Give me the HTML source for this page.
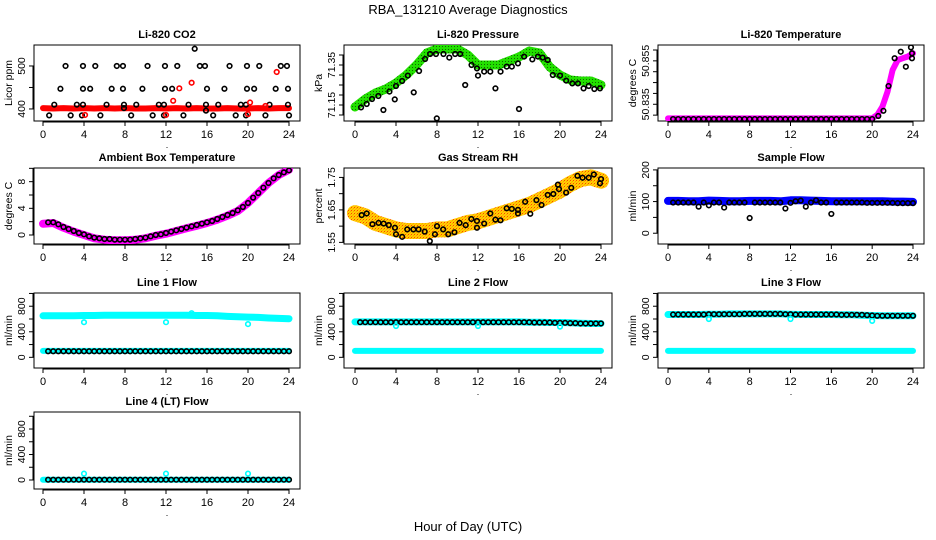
<!DOCTYPE html>
<html><head><meta charset="utf-8"><title>RBA_131210 Average Diagnostics</title>
<style>
html,body{margin:0;padding:0;background:#fff;}
svg{display:block;font-family:"Liberation Sans",Arial,sans-serif;}
</style></head>
<body>
<svg id="chart" width="936" height="540" viewBox="0 0 936 540" xmlns="http://www.w3.org/2000/svg">
<defs>
<pattern id="pGreen" width="3" height="3" patternUnits="userSpaceOnUse"><rect width="3" height="3" fill="#22e000"/><rect x="1" y="1" width="1" height="1" fill="#106600"/></pattern>
<pattern id="pOrange" width="3" height="3" patternUnits="userSpaceOnUse"><rect width="3" height="3" fill="#ffd000"/><rect width="1" height="1" fill="#ff4000"/><rect x="2" y="1" width="1" height="1" fill="#ff9a00"/><rect x="1" y="2" width="1" height="1" fill="#ffb000"/></pattern>
</defs>
<text x="468" y="14" font-size="13" text-anchor="middle">RBA_131210  Average Diagnostics</text>
<text x="468" y="531" font-size="13" text-anchor="middle">Hour of Day (UTC)</text>
</svg>
<script>
// ---- shared x values ----
const hrs=[0,1,2,3,4,5,6,7,8,9,10,11,12,13,14,15,16,17,18,19,20,21,22,23,24];
const hh=[0.5,1,1.5,2,2.5,3,3.5,4,4.5,5,5.5,6,6.5,7,7.5,8,8.5,9,9.5,10,10.5,11,11.5,12,12.5,13,13.5,14,14.5,15,15.5,16,16.5,17,17.5,18,18.5,19,19.5,20,20.5,21,21.5,22,22.5,23,23.5,24];
const xTicks=[0,4,8,12,16,20,24];

// ---- Li-820 CO2 ----
const co2Band=[402,401,402,401,402,401,402,401,402,401,401,402,401,402,401,402,401,401,402,401,401,402,401,402,402];
const co2BlackHours=[2.2,3.9,5.1,7.2,7.8,10.2,11.9,13.1,15.3,15.8,18.2,19.9,21.1,23.2,23.8, 1.7,3.9,4.6,6.7,7.8,9.7,11.9,12.6,16.0,17.7,19.9,20.6,22.7,23.9, 1.1,3.3,3.9,6.2,7.9,9.1,11.3,11.8,14.2,15.9,17.1,19.3,19.8,22.1,23.9, 0.6,2.7,3.8,5.6,8.6,10.7,11.8,13.7,16.6,18.8,19.8,21.7,24.0, 14.8,7.9,15.9];
const co2BlackVals=[500,500,500,500,500,500,500,500,500,500,500,500,500,500,500, 447,447,447,447,447,447,447,447,447,447,447,447,447,447, 410,410,410,410,410,410,410,410,410,410,410,410,410,410,410, 385,385,385,385,385,385,385,385,385,385,385,385,385, 540,402,396];
const co2RedHours=[4.1,12.0,12.7,13.3,14.5,20.2,20.0,22.8,21.7];
const co2RedVals=[386,386,419,448,461,415,388,486,407];

// ---- Li-820 Pressure ----
const presBand=[71.14,71.18,71.21,71.23,71.26,71.30,71.35,71.41,71.43,71.43,71.43,71.40,71.35,71.35,71.35,71.37,71.39,71.42,71.41,71.34,71.30,71.275,71.27,71.27,71.25];
const presHours=[0.59,1.14,1.66,2.28,3.36,4.0,4.6,5.15,6.25,6.84,7.33,7.9,8.63,9.2,9.77,10.26,11.37,11.9,12.0,12.6,13.2,14.2,14.8,15.3,15.9,16.5,17.3,17.85,18.3,18.8,19.3,20.0,20.6,21.2,21.75,22.3,22.8,23.35,23.9, 2.77,3.88,5.73,7.98,10.75,13.7,16.0];
const presVals=[71.138,71.155,71.18,71.195,71.217,71.245,71.27,71.297,71.32,71.38,71.405,71.405,71.405,71.387,71.405,71.405,71.35,71.333,71.297,71.317,71.317,71.317,71.342,71.342,71.358,71.392,71.378,71.392,71.387,71.375,71.30,71.297,71.272,71.258,71.258,71.233,71.245,71.23,71.233, 71.125,71.178,71.213,71.083,71.25,71.233,71.13];

// ---- Li-820 Temperature ----
const tempBandHours=[0,1,2,3,4,5,6,7,8,9,10,11,12,13,14,15,16,17,18,19,20,20.5,21,21.5,22,22.5,23,23.5,24];
const tempBand=[50.8285,50.8285,50.8285,50.8285,50.8285,50.8285,50.8285,50.8285,50.8285,50.8285,50.8285,50.8285,50.8285,50.8285,50.8285,50.8285,50.8285,50.8285,50.8285,50.8285,50.8285,50.8301,50.8339,50.8408,50.8508,50.8554,50.8562,50.857,50.8585];
const tempHours=[0.5,1,1.5,2,2.5,3,3.5,4,4.5,5,5.5,6,6.5,7,7.5,8,8.5,9,9.5,10,10.5,11,11.5,12,12.5,13,13.5,14,14.5,15,15.5,16,16.5,17,17.5,18,18.5,19,19.5,20,20.6,21.1,21.6,22.2,22.8,23.3,23.8,23.9,23.9];
const tempVals=[50.8282,50.8282,50.8282,50.8282,50.8282,50.8282,50.8282,50.8282,50.8282,50.8282,50.8282,50.8282,50.8282,50.8282,50.8282,50.8282,50.8282,50.8282,50.8282,50.8282,50.8282,50.8282,50.8282,50.8282,50.8282,50.8282,50.8282,50.8282,50.8282,50.8282,50.8282,50.8282,50.8282,50.8282,50.8282,50.8282,50.8282,50.8282,50.8282,50.8282,50.8296,50.8320,50.8434,50.8562,50.8592,50.8523,50.8612,50.8585,50.8562];

// ---- Ambient Box Temperature ----
const ambBand=[1.7,1.8,1.1,0.5,0.0,-0.5,-0.7,-0.8,-0.8,-0.7,-0.5,-0.1,0.2,0.6,1.0,1.4,1.8,2.3,2.9,3.6,4.8,6.3,7.8,9.0,9.8];
const ambVals=[1.9,1.9,1.6,1.2,0.9,0.6,0.3,0.1,-0.2,-0.4,-0.5,-0.6,-0.6,-0.7,-0.7,-0.7,-0.7,-0.6,-0.5,-0.4,-0.2,0.0,0.1,0.3,0.5,0.7,0.9,1.1,1.3,1.5,1.7,1.9,2.1,2.4,2.7,3.0,3.3,3.7,4.2,4.8,5.6,6.3,7.1,7.8,8.5,9.0,9.4,9.7];

// ---- Gas Stream RH ----
const rhBand=[1.64,1.63,1.61,1.60,1.59,1.585,1.585,1.585,1.59,1.59,1.60,1.61,1.615,1.625,1.635,1.645,1.655,1.665,1.68,1.695,1.71,1.73,1.745,1.75,1.74];
const rhHours=[0.65,1.14,1.7,2.3,2.8,3.3,3.9,4.0,4.6,5.1,5.7,6.2,6.8,7.3,7.8,8.0,8.6,9.1,9.7,10.2,10.8,11.35,11.9,11.9,12.6,13.2,13.7,14.2,14.8,15.3,15.9,15.9,16.6,17.1,17.7,18.2,18.8,19.35,19.8,19.9,20.6,21.1,21.7,22.2,22.8,23.3,23.9,24.0];
const rhVals=[1.634,1.639,1.606,1.61,1.608,1.603,1.595,1.575,1.567,1.59,1.59,1.59,1.583,1.554,1.575,1.6,1.59,1.575,1.581,1.61,1.603,1.622,1.616,1.595,1.608,1.639,1.62,1.618,1.655,1.653,1.65,1.639,1.675,1.638,1.68,1.665,1.696,1.699,1.728,1.714,1.703,1.718,1.755,1.749,1.749,1.759,1.732,1.745];

// ---- Sample Flow ----
const sampBand=[102,102,101,101,103,102,101,101,102,102,102,101,104,104,103,102,101,101,101,101,101,101,100,100,99];
const sampVals=[97,97,97,97,97,84,97,88,97,97,81,97,97,97,97,48,97,97,97,97,97,97,78,96,101,103,84,97,104,97,97,61,97,97,97,97,97,97,96,96,96,96,96,96,95,95,95,95];

// ---- Line 1 Flow ----
const l1High=[650,650,650,650,655,655,660,660,660,660,660,660,660,660,660,655,655,650,640,635,630,625,615,610,605];
const l1Low=[100,100,100,100,100,100,100,100,100,100,100,100,100,100,100,100,100,100,100,100,100,100,100,100,100];
const l1Black=[95,95,95,95,95,95,95,95,95,95,95,95,95,95,95,95,95,95,95,95,95,95,95,95,95,95,95,95,95,95,95,95,95,95,95,95,95,95,95,95,95,95,95,95,95,95,95,95];
const l1OutHours=[4,12,14.5,20];
const l1OutVals=[550,550,690,520];

// ---- Line 2 Flow ----
const l2High=[555,555,555,555,555,555,555,555,555,555,555,555,555,555,555,555,555,550,550,545,545,540,535,530,530];
const l2Low=[100,100,100,100,100,100,100,100,100,100,100,100,100,100,100,100,100,100,100,100,100,100,100,100,100];
const l2Black=[550,550,550,550,550,550,550,550,550,550,550,550,550,550,550,550,550,550,550,550,550,550,550,550,550,550,550,550,550,550,550,550,550,550,545,545,545,545,540,540,540,535,535,530,530,530,530,530];
const l2OutHours=[4,12,20];
const l2OutVals=[490,490,480];

// ---- Line 3 Flow ----
const l3High=[670,670,670,670,675,675,680,680,680,680,680,680,675,670,670,670,670,665,665,660,655,650,650,650,650];
const l3Low=[100,100,100,100,100,100,100,100,100,100,100,100,100,100,100,100,100,100,100,100,100,100,100,100,100];
const l3Black=[670,670,670,670,670,670,670,675,675,675,675,675,675,675,680,680,680,680,680,680,680,680,675,675,670,670,670,670,670,670,670,670,670,665,665,665,665,665,660,655,650,650,650,650,650,650,650,650];
const l3OutHours=[4,12,20];
const l3OutVals=[600,600,570];

// ---- Line 4 (LT) Flow ----
const l4Low=[5,5,5,5,5,5,5,5,5,5,5,5,5,5,5,5,5,5,5,5,5,5,5,5,5];
const l4Black=[5,5,5,5,5,5,5,5,5,5,5,5,5,5,5,5,5,5,5,5,5,5,5,5,5,5,5,5,5,5,5,5,5,5,5,5,5,5,5,5,5,5,5,5,5,5,5,5];
const l4OutHours=[4,12,20];
const l4OutVals=[100,100,100];

// ---- layout (pixels) ----
const NS='http://www.w3.org/2000/svg';
const svg=document.getElementById('chart');
const cols=[{L:34,R:300,x0:43,x24:289},{L:344,R:612,x0:355,x24:601},{L:658,R:924,x0:668,x24:913}];
const rows=[{T:45,B:121},{T:168,B:244},{T:293,B:368},{T:412,B:489}];

function el(tag,attrs,parent){const e=document.createElementNS(NS,tag);for(const k in attrs)e.setAttribute(k,attrs[k]);(parent||svg).appendChild(e);return e;}

function makePanel(key,title,ylab,c,r,yTop,yBot,yTicks,yLabels){
  const col=cols[c],row=rows[r];
  const g=el('g',{});
  
  
  const sx=v=>col.x0+(v/24)*(col.x24-col.x0);
  const sy=v=>row.T+(yTop-v)/(yTop-yBot)*(row.B-row.T);
  const box=el('rect',{x:col.L,y:row.T,width:col.R-col.L,height:row.B-row.T,fill:'none',stroke:'#000','stroke-width':1},g);
  
  
  const t=el('text',{x:(col.L+col.R)/2,y:row.T-7,'font-size':11,'font-weight':'bold','text-anchor':'middle'},g);
  t.textContent=title;
  
  
  const yl=el('text',{x:0,y:0,'font-size':10.5,'text-anchor':'middle',transform:`translate(${col.L-22},${(row.T+row.B)/2}) rotate(-90)`},g);
  yl.textContent=ylab;
  
  
  const dot=el('text',{x:(col.L+col.R)/2,y:row.B+27,'font-size':9,'text-anchor':'middle'},g);
  dot.textContent='.';
  
  
  const xa=el('g',{},g);
  
  
  el('line',{x1:sx(0),x2:sx(24),y1:row.B+1,y2:row.B+1,stroke:'#000'},xa);
  xTicks.forEach(v=>{
    el('line',{x1:sx(v),x2:sx(v),y1:row.B,y2:row.B+5,stroke:'#000'},xa);
    const tx=el('text',{x:sx(v),y:row.B+17,'font-size':11,'text-anchor':'middle'},xa);
    tx.textContent=v;
    
    
  });
  const ya=el('g',{},g);
  
  
  el('line',{x1:col.L-1,x2:col.L-1,y1:sy(yTicks[0]),y2:sy(yTicks[yTicks.length-1]),stroke:'#000'},ya);
  yTicks.forEach(v=>{
    el('line',{x1:col.L-5,x2:col.L,y1:sy(v),y2:sy(v),stroke:'#000'},ya);
  });
  yLabels.forEach(v=>{
    const ty=el('text',{x:0,y:0,'font-size':10.5,'text-anchor':'middle',transform:`translate(${col.L-9},${sy(v)}) rotate(-90)`},ya);
    ty.textContent=v;
    
    
  });
  const clipId='clip-'+key;
  const cp=el('clipPath',{id:clipId},g);
  el('rect',{x:col.L,y:row.T,width:col.R-col.L,height:row.B-row.T},cp);
  const plot=el('g',{'clip-path':`url(#${clipId})`},g);
  
  
  return {sx,sy,plot};
}
function band(P,xs,ys,color,w,name){
  const pts=xs.map((x,i)=>P.sx(x).toFixed(1)+','+P.sy(ys[i]).toFixed(1)).join(' ');
  const pl=el('polyline',{points:pts,fill:'none',stroke:color,'stroke-width':w,'stroke-linejoin':'round','stroke-linecap':'round'},P.plot);
  
  
}
function pts(P,xs,ys,color,name){
  const g=el('g',{},P.plot);
  
  
  xs.forEach((x,i)=>{
    const c=el('circle',{cx:P.sx(x),cy:P.sy(ys[i]),r:2.3,fill:'none',stroke:color,'stroke-width':1.6},g);
    
    
  });
}

// CO2
let P=makePanel('co2','Li-820 CO2','Licor ppm',0,0,548.8,372,[400,450,500],[400,500]);
band(P,hrs,co2Band,'#ff0000',6,'co2-band');
pts(P,co2BlackHours,co2BlackVals,'#000','co2-points');
pts(P,co2RedHours,co2RedVals,'#ff0000','co2-red-points');
// Pressure
P=makePanel('pressure','Li-820 Pressure','kPa',1,0,71.45,71.07,[71.10,71.15,71.20,71.25,71.30,71.35,71.40],['71.15','71.35']);
band(P,hrs,presBand,'url(#pGreen)',9,'pressure-band');
pts(P,presHours,presVals,'#000','pressure-points');
// Temperature
P=makePanel('temperature','Li-820 Temperature','degrees C',2,0,50.8623,50.8273,[50.830,50.835,50.840,50.845,50.850,50.855,50.860],['50.835','50.855']);
band(P,tempBandHours,tempBand,'#ff00ff',6,'temperature-band');
pts(P,tempHours,tempVals,'#000','temperature-points');
// Ambient
P=makePanel('ambient','Ambient Box Temperature','degrees C',0,1,10.05,-1.35,[0,2,4,6,8,10],['0','4','8']);
band(P,hrs,ambBand,'#ff00ff',8,'ambient-band');
pts(P,hh,ambVals,'#000','ambient-points');
// RH
P=makePanel('rh','Gas Stream RH','percent',1,1,1.779,1.545,[1.55,1.60,1.65,1.70,1.75],['1.55','1.65','1.75']);
band(P,hrs,rhBand,'url(#pOrange)',16,'rh-band');
pts(P,rhHours,rhVals,'#000','rh-points');
// Sample
P=makePanel('sample-flow','Sample Flow','ml/min',2,1,206,-34,[0,50,100,150,200],['0','100','200']);
band(P,hrs,sampBand,'#0000ff',8,'sample-band');
pts(P,hh,sampVals,'#000','sample-points');
// Line 1
P=makePanel('line1','Line 1 Flow','ml/min',0,2,1007,-167,[0,200,400,600,800,1000],['0','400','800']);
band(P,hrs,l1High,'#00ffff',7,'line1-high-band');
band(P,hrs,l1Low,'#00ffff',6,'line1-low-band');
pts(P,hh,l1Black,'#000','line1-points');
pts(P,l1OutHours,l1OutVals,'#00ffff','line1-outliers');
// Line 2
P=makePanel('line2','Line 2 Flow','ml/min',1,2,1007,-167,[0,200,400,600,800,1000],['0','400','800']);
band(P,hrs,l2High,'#00ffff',7,'line2-high-band');
band(P,hrs,l2Low,'#00ffff',6,'line2-low-band');
pts(P,hh,l2Black,'#000','line2-points');
pts(P,l2OutHours,l2OutVals,'#00ffff','line2-outliers');
// Line 3
P=makePanel('line3','Line 3 Flow','ml/min',2,2,1007,-167,[0,200,400,600,800,1000],['0','400','800']);
band(P,hrs,l3High,'#00ffff',7,'line3-high-band');
band(P,hrs,l3Low,'#00ffff',6,'line3-low-band');
pts(P,hh,l3Black,'#000','line3-points');
pts(P,l3OutHours,l3OutVals,'#00ffff','line3-outliers');
// Line 4
P=makePanel('line4','Line 4 (LT) Flow','ml/min',0,3,1067,-141,[0,200,400,600,800,1000],['0','400','800']);
band(P,hrs,l4Low,'#00ffff',6,'line4-band');
pts(P,hh,l4Black,'#000','line4-points');
pts(P,l4OutHours,l4OutVals,'#00ffff','line4-outliers');
</script>
</body></html>
